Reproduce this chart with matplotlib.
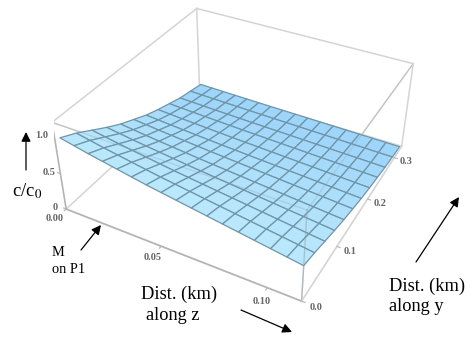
import numpy as np
import matplotlib
matplotlib.use("Agg")
import matplotlib.pyplot as plt
from matplotlib.colors import LinearSegmentedColormap
from matplotlib.patches import FancyArrowPatch

# distancias (km)
dist_z = [0.003, 0.01, 0.017, 0.024, 0.031, 0.038, 0.045, 0.052, 0.059,
          0.066, 0.073, 0.08, 0.087, 0.094, 0.101, 0.108, 0.115]
dist_y = [0.0, 0.029, 0.058, 0.087, 0.116, 0.145, 0.174, 0.203, 0.232,
          0.261, 0.29, 0.32]

c_along_y = [1.0, 0.90, 0.78, 0.66, 0.55, 0.46, 0.37, 0.30, 0.24, 0.18, 0.14, 0.10]
c_along_z = [1.0, 0.96, 0.92, 0.885, 0.85, 0.815, 0.78, 0.75, 0.72,
             0.69, 0.66, 0.63, 0.60, 0.57, 0.54, 0.51, 0.48]

z_ticks = [0.00, 0.05, 0.10]
y_ticks = [0.0, 0.1, 0.2, 0.3]
c_ticks = [0.0, 0.5, 1.0]

XMAX = 0.115
YMAX = 0.33
CMAX = 1.17

X, Y = np.meshgrid(dist_z, dist_y)
C = np.outer(c_along_y, c_along_z)

W, H = 474, 342
S = 365.9
fig = plt.figure(figsize=(4.74, 3.42), dpi=100)
ax = fig.add_axes([54.27 / W, (H - 323.2) / H, S / W, S / H], projection="3d",
                  computed_zorder=False)
ax.patch.set_alpha(0)
ax.set_proj_type("persp", focal_length=0.4193)
ax.view_init(elev=35.763, azim=-61.613)
ax.set_xlim(0, XMAX, view_margin=0)
ax.set_ylim(0, YMAX, view_margin=0)
ax.set_zlim(0, CMAX, view_margin=0)
ax.set_box_aspect((2.456, 2.4639, 1.0), zoom=1)
ax.set_axis_off()

cinza = "#d4d4d4"
cinza2 = "#b4b4b4"

def aresta(p, q, cor=cinza, lw=1.1, z=1, alpha=1.0):
    ax.plot([p[0], q[0]], [p[1], q[1]], [p[2], q[2]], color=cor, lw=lw,
            zorder=z, alpha=alpha)

# arestas de tras ficam por baixo da superficie
aresta((0, 0, 0), (0, YMAX, 0))
aresta((0, YMAX, 0), (XMAX, YMAX, 0))
aresta((0, YMAX, 0), (0, YMAX, CMAX))
aresta((0, 0, CMAX), (XMAX, 0, CMAX))
aresta((XMAX, 0, 0), (XMAX, 0, CMAX))
aresta((XMAX, 0, CMAX), (XMAX, YMAX, CMAX))

# azul um pouco mais claro na frente e mais forte no fundo
azuis = LinearSegmentedColormap.from_list("azuis", ["#b9e7fc", "#9ad2fa"])
ax.plot_surface(X, Y, C, facecolors=azuis(Y / YMAX), edgecolor="#6f95a9",
                linewidth=0.9, shade=False, rstride=1, cstride=1, zorder=2)

# as arestas que passam sobre a superficie aparecem fracas
aresta((0, 0, CMAX), (XMAX, 0, CMAX), "#8a9aa3", 0.8, 3, 0.3)
aresta((XMAX, 0, 0), (XMAX, 0, CMAX), "#8a9aa3", 1.0, 3, 0.45)
aresta((XMAX, 0, CMAX), (XMAX, YMAX, CMAX), "#8a9aa3", 0.8, 3, 0.3)

# arestas da frente
aresta((0, 0, 0), (XMAX, 0, 0), cinza2, 1.3, 3)
aresta((XMAX, 0, 0), (XMAX, YMAX, 0), cinza, 1.2, 3)
aresta((0, 0, 0), (0, 0, CMAX), cinza2, 1.2, 3)
aresta((XMAX, YMAX, 0), (XMAX, YMAX, CMAX), cinza, 1.1, 3)
aresta((0, YMAX, CMAX), (XMAX, YMAX, CMAX), cinza, 1.1, 3)
aresta((0, YMAX, CMAX), (0, 0, CMAX), cinza, 1.1, 3)

tick_font = dict(family="Liberation Serif", fontsize=7.5, color="#666666",
                 fontweight="bold", ha="center", va="center", zorder=5)

for t in z_ticks:
    ax.plot([t, t], [0, -0.004], [0, 0], color=cinza2, lw=0.8, zorder=3)
    ax.text(t + 0.0034, -0.032, 0.11, "%.2f" % t, **tick_font)
for t in y_ticks:
    ax.plot([XMAX, XMAX + 0.0015], [t, t], [0, 0], color=cinza2, lw=0.8, zorder=3)
    ax.text(XMAX + 0.006, t, -0.01, "%.1f" % t, **tick_font)
for t in c_ticks:
    ax.plot([0, -0.0015], [0, 0], [t, t], color=cinza2, lw=0.8, zorder=3)
    ax.text(-0.006, -0.002, t - 0.03, "0" if t == 0 else "%.1f" % t, **tick_font)

# textos e setas por cima, em pixels da imagem
def px(x, y):
    return (x / W, 1 - y / H)

serif = dict(family="Liberation Serif", color="black", va="baseline")
fig.text(*px(12, 196), "c/c$_0$", fontsize=13.4, math_fontfamily="stix", **serif)
fig.text(*px(52, 256), "M", fontsize=10.4, **serif)
fig.text(*px(52, 273), "on P1", fontsize=10.4, **serif)
fig.text(*px(141, 299), "Dist. (km)", fontsize=13.2, **serif)
fig.text(*px(146, 320), "along z", fontsize=13.2, **serif)
fig.text(*px(389, 291), "Dist. (km)", fontsize=13.2, **serif)
fig.text(*px(389, 311), "along y", fontsize=13.2, **serif)

def seta(ini, fim):
    fig.add_artist(FancyArrowPatch(px(*ini), px(*fim), transform=fig.transFigure,
                                   arrowstyle="-|>", mutation_scale=14, lw=0.9,
                                   color="black", shrinkA=0, shrinkB=0))

seta((26, 170), (26, 132))
seta((81, 250), (101, 225))
seta((241, 310), (292, 332))
seta((416, 262), (459, 197))

fig.savefig("out.png", dpi=100)
